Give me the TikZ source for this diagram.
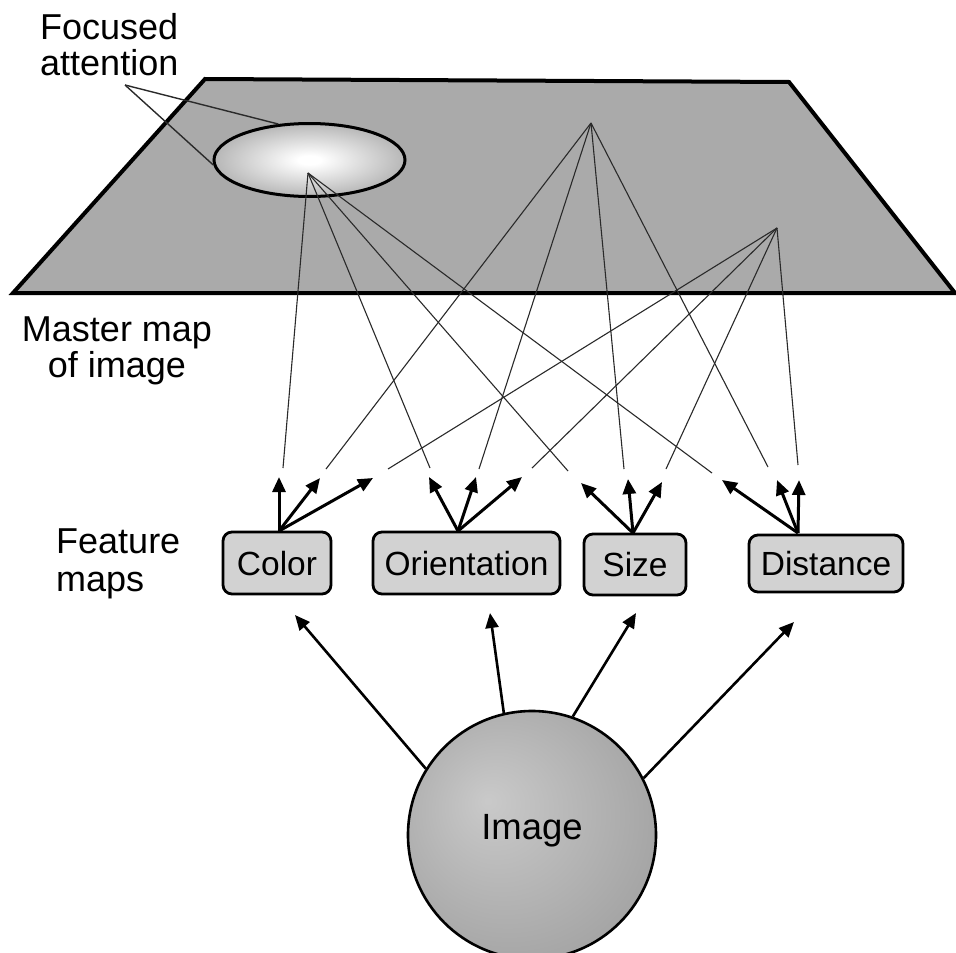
\documentclass[tikz,border=0pt]{standalone}
\usepackage{fontspec}
\setmainfont{Liberation Sans}
\usetikzlibrary{arrows.meta,shapes.geometric}
\definecolor{planecol}{HTML}{AAAAAA}
\definecolor{boxcol}{HTML}{D2D2D2}
\definecolor{linecol}{HTML}{2A2A2A}
\pgfdeclareradialshading{focusshade}{\pgfpoint{0bp}{0bp}}{color(0bp)=(white); color(3bp)=(white); color(25bp)=(planecol!85!white); color(50bp)=(planecol)}
\pgfdeclareradialshading{imageshade}{\pgfpoint{-9bp}{7bp}}{color(0bp)=(gray!42); color(33bp)=(gray!74); color(50bp)=(gray!74)}
\tikzset{
  thinline/.style={draw=linecol, line width=1.1pt},
  fmap/.style={draw=black, line width=2.8pt, rounded corners=9pt, fill=boxcol,
    font=\fontsize{33.5}{36}\selectfont, text height=24pt, text depth=0pt, inner sep=0pt},
  fa/.style={line width=3pt, -{Triangle[length=15pt,width=13pt]}},
  lbl/.style={font=\fontsize{36}{36}\selectfont, inner sep=0pt},
}
\begin{document}
\begin{tikzpicture}[x=1pt,y=-1pt]
\useasboundingbox (0,0) rectangle (956,953);
% master map plane
\draw[fill=planecol, line width=4pt, line join=miter] (205,79) -- (789,82) -- (955,293) -- (13,293) -- cycle;
% focused attention ellipse
\node[ellipse, draw=black, line width=3pt, shading=focusshade, minimum width=191pt, minimum height=73pt, inner sep=0pt] (foc) at (309.5,160) {};
% sources on master map
\coordinate (s1) at (308,173);
\coordinate (s2) at (591,123);
\coordinate (s3) at (777,228);
% line ends
\coordinate (c1a) at (283,468); \coordinate (c2a) at (326,469); \coordinate (c3a) at (388,469);
\coordinate (o1a) at (430,468); \coordinate (o2a) at (479,469); \coordinate (o3a) at (532,468);
\coordinate (z1a) at (568,471); \coordinate (z2a) at (624,469); \coordinate (z3a) at (666,469);
\coordinate (d1a) at (712,473); \coordinate (d2a) at (768,467); \coordinate (d3a) at (798,465);
\draw[thinline] (s1) -- (c1a); \draw[thinline] (s1) -- (o1a); \draw[thinline] (s1) -- (z1a); \draw[thinline] (s1) -- (d1a);
\draw[thinline] (s2) -- (c2a); \draw[thinline] (s2) -- (o2a); \draw[thinline] (s2) -- (z2a); \draw[thinline] (s2) -- (d2a);
\draw[thinline] (s3) -- (c3a); \draw[thinline] (s3) -- (o3a); \draw[thinline] (s3) -- (z3a); \draw[thinline] (s3) -- (d3a);
% focused attention label
\node[lbl, align=left, anchor=north west] (lfoc) at (40,13) {Focused\\attention};
\coordinate (fap) at (125,85);
\draw[thinline, line width=1.4pt] (fap) -- (foc.131);
\draw[thinline, line width=1.4pt] (fap) -- (foc.183);
% other labels
\node[lbl, align=center, anchor=north] (lmaster) at (117,317) {Master map\\of image};
\node[font=\fontsize{36}{38}\selectfont, inner sep=0pt, align=left, anchor=north west] (lfeat) at (56,529) {Feature\\maps};
% feature map boxes
\node[fmap, minimum width=108pt, minimum height=62pt] (color) at (277,563) {Color};
\node[fmap, minimum width=187pt, minimum height=62pt] (orient) at (466.5,563) {Orientation};
\node[fmap, minimum width=102pt, minimum height=61pt] (size) at (635,564.5) {Size};
\node[fmap, minimum width=154pt, minimum height=57pt] (dist) at (826,563.5) {Distance};
% arrow origins and tips
\coordinate (oc) at (279,531); \coordinate (oo) at (458,531); \coordinate (oz) at (633,533); \coordinate (od) at (798,533);
\coordinate (c1) at (279,477); \coordinate (c2) at (320,478); \coordinate (c3) at (373,478);
\coordinate (o1) at (429,477); \coordinate (o2) at (476,477); \coordinate (o3) at (522,477);
\coordinate (z1) at (581,483); \coordinate (z2) at (628,479); \coordinate (z3) at (662,482);
\coordinate (d1) at (722,480); \coordinate (d2) at (777,480); \coordinate (d3) at (799,480);
\draw[fa] (oc) -- (c1); \draw[fa] (oc) -- (c2); \draw[fa] (oc) -- (c3);
\draw[fa] (oo) -- (o1); \draw[fa] (oo) -- (o2); \draw[fa] (oo) -- (o3);
\draw[fa] (oz) -- (z1); \draw[fa] (oz) -- (z2); \draw[fa] (oz) -- (z3);
\draw[fa] (od) -- (d1); \draw[fa] (od) -- (d2); \draw[fa] (od) -- (d3);
% image circle
\node[circle, draw=black, line width=2.6pt, shading=imageshade, minimum size=248pt, inner sep=0pt,
  font=\fontsize{36.5}{38}\selectfont, text height=26pt, text depth=18pt] (img) at (532,835) {Image};
\coordinate (t1) at (295,615); \coordinate (t2) at (490,613); \coordinate (t3) at (636,613); \coordinate (t4) at (794,622);
\draw[fa, line width=2.6pt] (img.148) -- (t1);
\draw[fa, line width=2.6pt] (img.103) -- (t2);
\draw[fa, line width=2.6pt] (img.71) -- (t3);
\draw[fa, line width=2.6pt] (img.27) -- (t4);
\end{tikzpicture}
\end{document}
